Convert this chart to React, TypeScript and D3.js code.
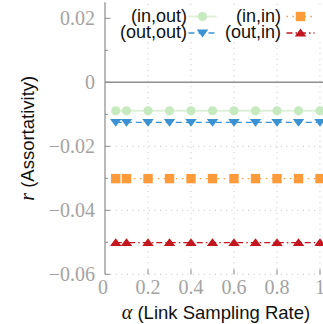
import React from "react";
import * as d3 from "d3";

const alphas = [0.05, 0.1, 0.2, 0.3, 0.4, 0.5, 0.6, 0.7, 0.8, 0.9, 1.0];
const inOut = [-0.0089, -0.0089, -0.0089, -0.0089, -0.0089, -0.0089, -0.0089, -0.0089, -0.0089, -0.0089, -0.0089];
const outOut = [-0.0125, -0.0125, -0.0125, -0.0125, -0.0125, -0.0125, -0.0125, -0.0125, -0.0125, -0.0125, -0.0125];
const inIn = [-0.0301, -0.0301, -0.0301, -0.0301, -0.0301, -0.0301, -0.0301, -0.0301, -0.0301, -0.0301, -0.0301];
const outIn = [-0.0501, -0.0501, -0.0501, -0.0501, -0.0501, -0.0501, -0.0501, -0.0501, -0.0501, -0.0501, -0.0501];
const xTicks = [0, 0.2, 0.4, 0.6, 0.8, 1];
const xTickLabels = ["0", "0.2", "0.4", "0.6", "0.8", "1"];
const yTicks = [0.02, 0, -0.02, -0.04, -0.06];
const yTickLabels = ["0.02", "0", "\u22120.02", "\u22120.04", "\u22120.06"];
const yMinorTicks = [0.01, -0.01, -0.03, -0.05];

type Series = {
  name: string;
  values: number[];
  color: string;
  lineColor: string;
  dash: string;
  marker: "circle" | "square" | "tri-up" | "tri-down";
};

const series: Series[] = [
  { name: "(in,out)", values: inOut, color: "#c7e9c0", lineColor: "#dcf1d6", dash: "", marker: "circle" },
  { name: "(out,out)", values: outOut, color: "#3b92d3", lineColor: "#3b92d3", dash: "6,4", marker: "tri-down" },
  { name: "(in,in)", values: inIn, color: "#fd9a3a", lineColor: "#fd9a3a", dash: "1.5,4.5", marker: "square" },
  { name: "(out,in)", values: outIn, color: "#c3161f", lineColor: "#c3161f", dash: "6,3,1.5,3", marker: "tri-up" },
];

const W = 323;
const H = 324;
const serif = "Liberation Serif, DejaVu Serif, serif";
const sans = "Liberation Sans, Arial, sans-serif";
const grayTxt = "#a3a3a3";
const spine = "#8a8a8a";

function Marker({ kind, x, y, color }: { kind: Series["marker"]; x: number; y: number; color: string }) {
  if (kind === "circle") return <circle cx={x} cy={y} r={4.6} fill={color} />;
  if (kind === "square") return <rect x={x - 4.7} y={y - 4.7} width={9.4} height={9.4} fill={color} />;
  const tri = d3.symbol(d3.symbolTriangle, 52)() as string;
  return (
    <path
      d={tri}
      transform={`translate(${x},${y + (kind === "tri-up" ? 0.8 : -0.8)}) scale(1.05,${kind === "tri-up" ? 0.82 : -0.82})`}
      fill={color}
    />
  );
}

export default function App() {
  const x = d3.scaleLinear().domain([0, 1]).range([105, 320]);
  const y = d3.scaleLinear().domain([-0.06, 0.025]).range([274.3, 2.3]);
  const x0 = x(0);
  const line = d3
    .line<number>()
    .x((_, i) => x(alphas[i]))
    .y((d) => y(d));

  const legendRows = [
    { s: series[0], col: 0, row: 0 },
    { s: series[1], col: 0, row: 1 },
    { s: series[2], col: 1, row: 0 },
    { s: series[3], col: 1, row: 1 },
  ];
  const colTextRight = [187, 281];
  const colMarker = [202.5, 300.5];
  const rowMarkerY = [16.5, 33];
  const rowBaseline = [22, 38];

  return (
    <svg width={W} height={H} style={{ position: "absolute", left: 0, top: 0, background: "#fff" }}>
      <defs>
        <clipPath id="plot">
          <rect x={x0} y={0} width={W - x0} height={276} />
        </clipPath>
      </defs>
      <g stroke="#c4c4c4" strokeWidth={1} strokeDasharray="1,4.5">
        {xTicks.filter((t) => t > 0).map((t) => (
          <line key={"gx" + t} x1={x(t)} x2={x(t)} y1={y(-0.06)} y2={2.3} />
        ))}
        {yTicks.filter((t) => t !== 0).map((t) => (
          <line key={"gy" + t} x1={x0} x2={W} y1={y(t)} y2={y(t)} />
        ))}
      </g>
      <line x1={x0} x2={W} y1={y(0)} y2={y(0)} stroke="#8f8f8f" strokeWidth={1.6} />
      <g clipPath="url(#plot)">
        {series.map((s) => (
          <g key={s.name}>
            <path
              d={line(s.values) as string}
              fill="none"
              stroke={s.lineColor}
              strokeWidth={s.marker === "circle" ? 2 : 1.3}
              strokeDasharray={s.dash || undefined}
            />
            {s.values.map((v, i) => (
              <Marker key={i} kind={s.marker} x={x(alphas[i])} y={y(v)} color={s.color} />
            ))}
          </g>
        ))}
      </g>
      <line x1={x0} x2={x0} y1={2.3} y2={y(-0.06)} stroke={spine} strokeWidth={1.2} />
      {yTicks.map((t) => (
        <line key={"yt" + t} x1={x0} x2={x0 + 5} y1={y(t)} y2={y(t)} stroke={spine} strokeWidth={1} />
      ))}
      {yMinorTicks.map((t) => (
        <line key={"ym" + t} x1={x0} x2={x0 + 3} y1={y(t)} y2={y(t)} stroke={spine} strokeWidth={1} />
      ))}
      {xTicks.filter((t) => t > 0).map((t) => (
        <line key={"xt" + t} x1={x(t)} x2={x(t)} y1={y(-0.06)} y2={y(-0.06) - 5} stroke={spine} strokeWidth={1} />
      ))}
      <g fill={grayTxt}>
        {yTicks.map((t, i) => (
          <text key={"yl" + t} x={95} y={y(t) + 6.5} textAnchor="end" fontFamily={serif} fontSize={20}>
            {yTickLabels[i]}
          </text>
        ))}
        {xTicks.map((t, i) => (
          <text key={"xl" + t} x={x(t) - (t === 0 ? 2 : 0)} y={293.5} textAnchor="middle" fontFamily={serif} fontSize={20}>
            {xTickLabels[i]}
          </text>
        ))}
      </g>
      <rect x={112} y={6} width={W - 112} height={36} fill="#fff" />
      {legendRows.map(({ s, col, row }) => (
        <g key={"lg" + s.name}>
          <line
            x1={colMarker[col] - 14}
            x2={colMarker[col] + 14}
            y1={rowMarkerY[row]}
            y2={rowMarkerY[row]}
            stroke={s.lineColor}
            strokeWidth={s.marker === "circle" ? 2 : 1.3}
            strokeDasharray={s.dash || undefined}
          />
          <Marker kind={s.marker} x={colMarker[col]} y={rowMarkerY[row]} color={s.color} />
          <text x={colTextRight[col]} y={rowBaseline[row]} textAnchor="end" fontFamily={sans} fontSize={18} fill="#111">
            {s.name}
          </text>
        </g>
      ))}
      <text x={216} y={319} textAnchor="middle" fontFamily={sans} fontSize={18.5} fill="#111">
        <tspan fontFamily={serif} fontStyle="italic" fontSize={20}>α</tspan>
        <tspan> (Link Sampling Rate)</tspan>
      </text>
      <text
        transform={`translate(34,${(2.3 + 274.3) / 2}) rotate(-90)`}
        textAnchor="middle"
        fontFamily={sans}
        fontSize={18.5}
        fill="#111"
      >
        <tspan fontFamily={serif} fontStyle="italic" fontSize={20}>r</tspan>
        <tspan> (Assortativity)</tspan>
      </text>
    </svg>
  );
}
